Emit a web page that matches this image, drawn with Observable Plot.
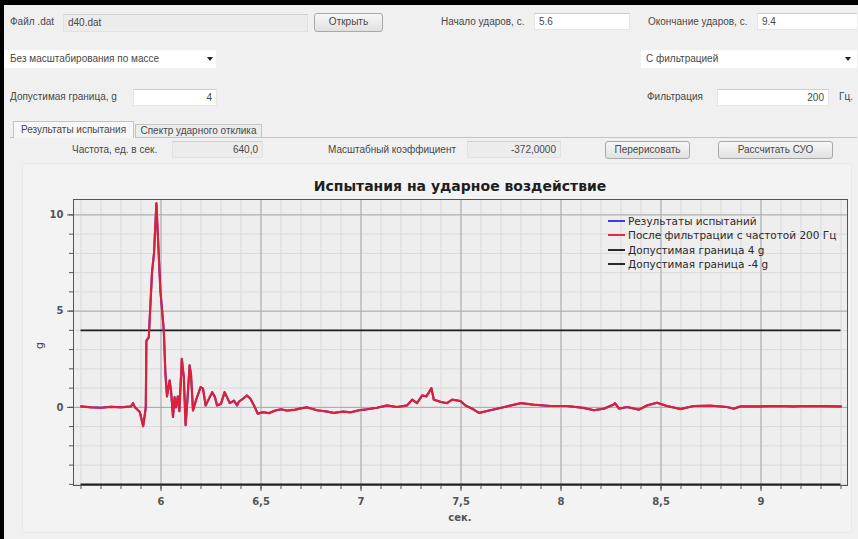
<!DOCTYPE html>
<html><head><meta charset="utf-8">
<script src="https://cdn.jsdelivr.net/npm/d3@7"></script>
<script src="https://cdn.jsdelivr.net/npm/@observablehq/plot@0.6"></script>
<style>
html,body{overflow:hidden;scrollbar-width:none}
::-webkit-scrollbar{width:0;height:0;display:none}
body{margin:0;background:#f0f0f0;width:858px;height:539px;font-family:"Liberation Sans",Arial,sans-serif;font-size:10px;color:#484848;position:relative}
#topb{position:absolute;left:0;top:0;width:858px;height:5px;background:#000}
#leftb{position:absolute;left:0;top:0;width:4px;height:539px;background:#000}
.lbl{position:absolute;white-space:nowrap;line-height:12px}
.inp{position:absolute;background:#fff;border:1px solid #e6e6e6;border-top-color:#cdcdcd;box-sizing:border-box;line-height:15px;padding:0 4px;white-space:nowrap;overflow:hidden}
.ro{background:#ececec;border-color:#e2e2e2;border-top-color:#d0d0d0}
.r{text-align:right}
.btn{position:absolute;box-sizing:border-box;border:1px solid #a9a9a9;border-radius:3px;background:linear-gradient(#f7f7f7,#e1e1e1);text-align:center;line-height:16px}
.sel{position:absolute;background:#fff;box-sizing:border-box;line-height:18px;padding:0 5px;white-space:nowrap}
.arrow{position:absolute;width:0;height:0;border-left:3.5px solid transparent;border-right:3.5px solid transparent;border-top:4px solid #222;top:7px}
.abs{position:absolute}
#legend{position:absolute;left:608px;top:214px;font-family:"DejaVu Sans";font-size:10.5px;color:#2a2a2a}
#legend div{height:14.3px;line-height:14.3px;white-space:nowrap;position:relative;padding-left:20px}
#legend span{position:absolute;left:0;top:6px;width:17px;height:2px}
</style></head>
<body>
<div id="topb"></div><div id="leftb"></div>
<!-- top row -->
<div class="lbl" style="left:10px;top:16px">Файл .dat</div>
<div class="inp ro" style="left:63px;top:14px;width:245px;height:18px">d40.dat</div>
<div class="btn" style="left:314px;top:13px;width:69px;height:19px">Открыть</div>
<div class="lbl" style="left:441px;top:16px">Начало ударов, с.</div>
<div class="inp" style="left:534px;top:13px;width:96px;height:17px">5.6</div>
<div class="lbl" style="left:648px;top:16px">Окончание ударов, с.</div>
<div class="inp" style="left:757px;top:13px;width:100px;height:17px;border-right:none">9.4</div>
<!-- selects -->
<div class="sel" style="left:4px;top:50px;width:212px;height:18px;padding-left:6px">Без масштабирования по массе<div class="arrow" style="left:203px"></div></div>
<div class="sel" style="left:641px;top:50px;width:216px;height:18px">С фильтрацией<div class="arrow" style="left:204px"></div></div>
<!-- limits -->
<div class="lbl" style="left:10px;top:91px">Допустимая граница, g</div>
<div class="inp r" style="left:133px;top:89px;width:84px;height:17px">4</div>
<div class="lbl" style="left:647px;top:91px">Фильтрация</div>
<div class="inp r" style="left:717px;top:89px;width:112px;height:17px">200</div>
<div class="lbl" style="left:839px;top:91px">Гц.</div>
<!-- tabs -->
<div class="abs" style="left:135px;top:137px;width:722px;height:1px;background:#c4c4c4"></div>
<div class="abs" style="left:10px;top:137px;width:3px;height:1px;background:#c4c4c4"></div>
<div class="abs" style="left:13px;top:121px;width:121px;height:17px;background:#f7f7f7;border:1px solid #c4c4c4;border-bottom:none;box-sizing:border-box;line-height:15px;text-align:center">Результаты испытания</div>
<div class="abs" style="left:135px;top:124px;width:127px;height:14px;background:#ececec;border:1px solid #c4c4c4;box-sizing:border-box;line-height:12px;text-align:center">Спектр ударного отклика</div>
<!-- tab content controls -->
<div class="lbl" style="left:72px;top:144px">Частота, ед. в сек.</div>
<div class="inp ro r" style="left:172px;top:141px;width:91px;height:17px">640,0</div>
<div class="lbl" style="left:328px;top:144px">Масштабный коэффициент</div>
<div class="inp ro r" style="left:467px;top:141px;width:94px;height:17px">-372,0000</div>
<div class="btn" style="left:605px;top:141px;width:85px;height:18px">Перерисовать</div>
<div class="btn" style="left:718px;top:141px;width:115px;height:18px">Рассчитать СУО</div>
<!-- chart panel -->
<div class="abs" style="left:22px;top:163px;width:830px;height:370px;background:#f3f3f3;border:1px solid #e8e8e8;box-sizing:border-box"></div>
<div class="abs" style="left:160px;top:178px;width:600px;text-align:center;font-family:'DejaVu Sans';font-weight:bold;font-size:14px;color:#1e1e1e">Испытания на ударное воздействие</div>
<div id="chart" class="abs" style="left:0;top:162px;width:858px;height:374px;overflow:hidden"></div>
<div class="abs" style="left:36px;top:339px;font-family:'DejaVu Sans';font-size:11px;color:#444;transform:rotate(-90deg)">g</div>
<div class="abs" style="left:360px;top:512px;width:200px;text-align:center;font-family:'DejaVu Sans';font-weight:bold;font-size:10px;color:#555">сек.</div>
<div id="legend"></div>
<script>
// ---- data ----
const tStart = 5.6, tEnd = 9.4;
const limitValues = [4, -4];
const times = [5.6,5.65,5.7,5.75,5.8,5.85,5.86,5.87,5.894,5.911,5.924,5.927,5.939,5.955,5.965,5.977,5.997,6.014,6.022,6.03,6.043,6.05,6.06,6.068,6.075,6.084,6.092,6.104,6.114,6.123,6.132,6.143,6.15,6.16,6.175,6.198,6.21,6.223,6.235,6.256,6.27,6.28,6.3,6.318,6.33,6.344,6.365,6.38,6.39,6.41,6.43,6.447,6.465,6.484,6.51,6.54,6.57,6.6,6.63,6.67,6.7,6.73,6.78,6.83,6.864,6.91,6.947,6.99,7.03,7.08,7.13,7.18,7.23,7.256,7.28,7.306,7.327,7.34,7.352,7.364,7.4,7.43,7.456,7.4975,7.522,7.556,7.59,7.63,7.68,7.75,7.8,7.864,7.9475,8.03,8.114,8.164,8.214,8.264,8.27,8.29,8.33,8.39,8.43,8.48,8.53,8.5975,8.664,8.747,8.83,8.864,8.897,8.9975,9.08,9.164,9.22,9.3,9.4];
const filtered = [0.05,0,-0.02,0.03,0,0.05,0.22,0,-0.24,-0.98,0,3.47,3.64,7.0,8.0,10.6,6.06,4.0,1.76,0.57,1.4,0.88,-0.5,0.53,0,0.57,-0.2,2.52,1.57,-0.93,0.36,2.18,1.7,-0.16,0.37,1.05,0.97,0.1,0.35,0.79,0.53,0.1,0.18,0.79,0.53,0.22,0.35,0.1,0.3,0.45,0.62,0.45,0.1,-0.33,-0.25,-0.3,-0.17,-0.1,-0.17,-0.12,-0.05,0,-0.15,-0.22,-0.29,-0.22,-0.26,-0.15,-0.1,-0.02,0.1,0.02,0.1,0.4,0.22,0.62,0.57,0.79,1.0,0.4,0.28,0.22,0.4,0.33,0.1,-0.07,-0.29,-0.19,-0.07,0.1,0.22,0.14,0.07,0.07,-0.03,-0.15,-0.07,0.15,0.22,-0.07,0.02,-0.12,0.1,0.24,0.07,-0.09,0.07,0.09,0.02,-0.07,0.05,0.05,0.07,0.05,0.07,0.06,0.05];
const raw = filtered; // raw series is hidden beneath the filtered one
const xMajor = [6, 6.5, 7, 7.5, 8, 8.5, 9];
const yMajor = [0, 5, 10];
const xMinor = d3.range(56, 95).map(d => d / 10);
const yMinor = d3.range(-4, 11);
const legendItems = [
  {label: "Результаты испытаний", color: "#3b3bf0"},
  {label: "После фильтрации с частотой 200 Гц", color: "#e8283e"},
  {label: "Допустимая граница 4 g", color: "#2a2a2a"},
  {label: "Допустимая граница -4 g", color: "#2a2a2a"}
];
// ---- chart ----
const rows = times.map((t, i) => ({t, raw: raw[i], f: filtered[i]}));
const fmt = d => String(d).replace(".", ",");
const chart = Plot.plot({
  width: 858, height: 374,
  marginLeft: 73, marginRight: 11, marginTop: 37, marginBottom: 51,
  style: {background: "transparent", fontFamily: "DejaVu Sans", fontSize: "10px", color: "#555"},
  x: {domain: [5.5625, 9.4325]},
  y: {domain: [-4.06, 10.8]},
  marks: [
    Plot.frame({fill: "#eeeeee"}),
    Plot.gridX(xMinor, {stroke: "#d9d9d9", strokeOpacity: 1}),
    Plot.gridY(yMinor, {stroke: "#d9d9d9", strokeOpacity: 1}),
    Plot.gridX(xMajor, {stroke: "#a9a9a9", strokeOpacity: 1}),
    Plot.gridY(yMajor, {stroke: "#a9a9a9", strokeOpacity: 1}),
    Plot.ruleY(limitValues, {x1: tStart, x2: tEnd, stroke: "#1e1e1e", strokeWidth: 1.7}),
    Plot.line(rows, {x: "t", y: "raw", stroke: "#3b3bf0", strokeWidth: 2}),
    Plot.line(rows, {x: "t", y: "f", stroke: "#dc2038", strokeWidth: 2.2}),
    Plot.frame({stroke: "#555", strokeWidth: 1}),
    Plot.axisX(xMajor, {tickSize: 6, tickPadding: 6, tickFormat: fmt, fontWeight: "bold", fill: "#555", stroke: "#555", label: null}),
    Plot.axisX(xMinor, {tickSize: 4, text: null, stroke: "#555", label: null}),
    Plot.axisY(yMajor, {tickSize: 6, tickPadding: 4, fontWeight: "bold", fill: "#555", stroke: "#555", label: null}),
    Plot.axisY(yMinor, {tickSize: 4, text: null, stroke: "#555", label: null})
  ]
});
document.getElementById("chart").appendChild(chart);
const lg = document.getElementById("legend");
for (const it of legendItems) {
  const d = document.createElement("div");
  d.textContent = it.label;
  const s = document.createElement("span");
  s.style.background = it.color;
  d.prepend(s);
  lg.appendChild(d);
}
</script>
</body></html>
